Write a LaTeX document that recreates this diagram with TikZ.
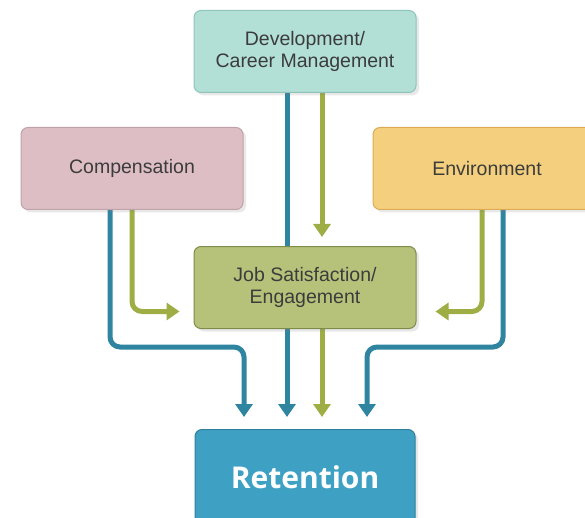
\documentclass[tikz,border=0pt]{standalone}
\usepackage{fontspec}
\setmainfont{Liberation Sans}
\newfontfamily\retfont{Open Sans}
\usetikzlibrary{arrows.meta, positioning, calc, shadows}
\definecolor{txtgray}{HTML}{3C3C3C}
\definecolor{dev_fill}{HTML}{B2DFD6}
\definecolor{dev_line}{HTML}{8FC4BC}
\definecolor{comp_fill}{HTML}{DDBEC4}
\definecolor{comp_line}{HTML}{BFA3A8}
\definecolor{env_fill}{HTML}{F4D07E}
\definecolor{env_line}{HTML}{DDA955}
\definecolor{js_fill}{HTML}{B6C27A}
\definecolor{js_line}{HTML}{7D8C4A}
\definecolor{ret_fill}{HTML}{3EA1C4}
\definecolor{ret_line}{HTML}{2F7F9C}
\definecolor{flowblue}{HTML}{2F849F}
\definecolor{flowolive}{HTML}{9EAE45}
\pgfdeclarelayer{back}
\pgfsetlayers{back,main}
\tikzset{
  factor/.style={rectangle,rounded corners=7pt,line width=1pt,minimum width=222pt,minimum height=82pt,
    align=center,text=txtgray,font=\fontsize{19.5}{22.5}\selectfont,
    drop shadow={shadow xshift=3pt,shadow yshift=-3pt,opacity=.18}},
  devbox/.style={factor,draw=dev_line,fill=dev_fill},
  compbox/.style={factor,draw=comp_line,fill=comp_fill},
  envbox/.style={factor,draw=env_line,fill=env_fill,minimum width=228pt},
  jsbox/.style={factor,draw=js_line,fill=js_fill},
  retbox/.style={factor,draw=ret_line,fill=ret_fill,minimum width=220pt,minimum height=96pt,
    text=white,font=\retfont\bfseries\fontsize{30}{36}\selectfont},
  flow/.style={line width=5pt,rounded corners=10pt,-{Triangle[width=17pt,length=13pt]}},
  blueflow/.style={flow,draw=flowblue},
  oliveflow/.style={flow,draw=flowolive},
}
\begin{document}
\begin{tikzpicture}[x=1pt,y=-1pt]
  \useasboundingbox (0,0) rectangle (585,518);
  \node[devbox] (DEV) at (305,51.5) {Development/\\Career Management};
  \node[compbox] (COMP) at (132,168.5) {Compensation};
  \node[envbox] (ENV) at (487,168.5) {Environment};
  \node[jsbox,below=153pt of DEV] (JS) {Job Satisfaction/\\Engagement};
  \node[retbox,below=100pt of JS] (RET) {Retention};
  \begin{pgfonlayer}{back}
    % direct paths into retention
    \draw[blueflow,shorten >=12pt] ([xshift=-18pt]DEV.south) -- ([xshift=-18pt]RET.north);
    \draw[blueflow,shorten >=12pt] ([xshift=-22pt]COMP.south) |- ([xshift=-61pt,yshift=82pt]RET.north) -- ([xshift=-61pt]RET.north);
    \draw[blueflow,shorten >=12pt] ([xshift=16pt]ENV.south) |- ([xshift=62pt,yshift=82pt]RET.north) -- ([xshift=62pt]RET.north);
    % paths through job satisfaction
    \draw[oliveflow,shorten >=9pt] ([xshift=17pt]DEV.south) -- ([xshift=17pt]JS.north);
    \draw[oliveflow,shorten >=14pt] (COMP.south) |- ([yshift=-24pt]JS.west);
    \draw[oliveflow,shorten >=19pt] ([xshift=-5pt]ENV.south) |- ([yshift=-24pt]JS.east);
    \draw[oliveflow,shorten >=12pt] ([xshift=17pt]JS.south) -- ([xshift=17pt]RET.north);
  \end{pgfonlayer}
\end{tikzpicture}
\end{document}
